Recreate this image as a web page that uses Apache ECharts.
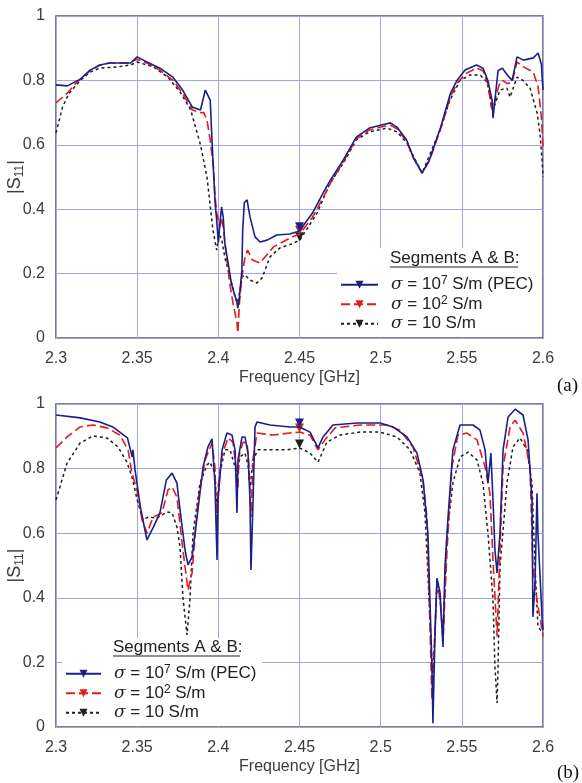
<!DOCTYPE html>
<html>
<head>
<meta charset="utf-8">
<script src="https://cdn.jsdelivr.net/npm/echarts@6/dist/echarts.min.js"></script>
<style>
html,body{margin:0;padding:0;background:#fff;}
#c{width:582px;height:783px;}
</style>
</head>
<body>
<div id="c"></div>
<script>
// ---- data (frequency in GHz, |S11|) ----
const xMin = 2.3, xMax = 2.6, xStep = 0.05;
const yMin = 0, yMax = 1, yStep = 0.2;
const markerFreq = 2.45;
const legendLabels = ['σ = 10^7 S/m (PEC)', 'σ = 10^2 S/m', 'σ = 10 S/m'];
const legendTitle = 'Segments A & B:';
const panelLabels = ['(a)', '(b)'];
const xName = 'Frequency [GHz]';

// (a) top panel
const pecA = [[2.300,0.786],[2.307,0.783],[2.315,0.804],[2.321,0.832],[2.327,0.848],[2.333,0.854],[2.346,0.854],[2.350,0.873],[2.356,0.857],[2.364,0.838],[2.372,0.81],[2.378,0.77],[2.384,0.717],[2.389,0.708],[2.392,0.77],[2.393,0.773],[2.395,0.739],[2.396,0.624],[2.397,0.52],[2.398,0.42],[2.399,0.366],[2.400,0.295],[2.401,0.357],[2.402,0.407],[2.403,0.376],[2.404,0.295],[2.406,0.233],[2.408,0.171],[2.4115,0.109],[2.412,0.093],[2.413,0.127],[2.4145,0.21],[2.415,0.335],[2.416,0.42],[2.4177,0.429],[2.4195,0.376],[2.4226,0.314],[2.4257,0.298],[2.430,0.304],[2.436,0.32],[2.444,0.323],[2.4485,0.33],[2.450,0.333],[2.458,0.388],[2.4645,0.45],[2.469,0.49],[2.477,0.553],[2.485,0.624],[2.493,0.652],[2.500,0.661],[2.506,0.668],[2.510,0.655],[2.516,0.615],[2.520,0.562],[2.5255,0.512],[2.530,0.553],[2.537,0.655],[2.543,0.76],[2.547,0.80],[2.552,0.832],[2.559,0.848],[2.563,0.838],[2.566,0.80],[2.5686,0.739],[2.5692,0.683],[2.5704,0.74],[2.5723,0.83],[2.575,0.838],[2.578,0.817],[2.581,0.80],[2.584,0.873],[2.588,0.863],[2.594,0.87],[2.597,0.885],[2.599,0.85],[2.600,0.77]];
const s100A = [[2.300,0.73],[2.307,0.761],[2.313,0.795],[2.321,0.83],[2.327,0.848],[2.333,0.854],[2.344,0.854],[2.350,0.866],[2.356,0.854],[2.364,0.832],[2.372,0.80],[2.378,0.76],[2.384,0.708],[2.389,0.70],[2.391,0.70],[2.393,0.677],[2.395,0.615],[2.397,0.53],[2.398,0.44],[2.399,0.388],[2.401,0.345],[2.402,0.373],[2.403,0.345],[2.405,0.252],[2.407,0.171],[2.409,0.109],[2.4115,0.047],[2.412,0.016],[2.413,0.109],[2.4145,0.19],[2.4164,0.25],[2.418,0.273],[2.421,0.242],[2.4257,0.233],[2.434,0.283],[2.444,0.31],[2.4485,0.32],[2.450,0.322],[2.458,0.375],[2.465,0.44],[2.469,0.48],[2.477,0.548],[2.485,0.618],[2.493,0.646],[2.500,0.655],[2.506,0.661],[2.510,0.65],[2.516,0.61],[2.520,0.56],[2.5255,0.512],[2.530,0.55],[2.537,0.65],[2.543,0.75],[2.547,0.79],[2.552,0.82],[2.559,0.838],[2.563,0.83],[2.566,0.79],[2.568,0.72],[2.569,0.708],[2.571,0.75],[2.573,0.786],[2.575,0.80],[2.578,0.79],[2.581,0.795],[2.584,0.857],[2.588,0.842],[2.594,0.826],[2.597,0.78],[2.599,0.686],[2.600,0.593]];
const s10A = [[2.300,0.637],[2.304,0.717],[2.308,0.76],[2.315,0.80],[2.321,0.826],[2.327,0.838],[2.338,0.842],[2.346,0.848],[2.350,0.857],[2.360,0.842],[2.369,0.81],[2.377,0.76],[2.383,0.708],[2.389,0.60],[2.393,0.50],[2.3967,0.335],[2.399,0.273],[2.4004,0.32],[2.402,0.31],[2.404,0.25],[2.4072,0.19],[2.4103,0.127],[2.412,0.109],[2.4146,0.19],[2.4164,0.196],[2.4195,0.18],[2.4238,0.171],[2.4269,0.186],[2.4318,0.252],[2.438,0.28],[2.4441,0.29],[2.4485,0.30],[2.450,0.302],[2.4608,0.388],[2.4688,0.48],[2.477,0.543],[2.485,0.615],[2.493,0.64],[2.5039,0.652],[2.510,0.64],[2.5162,0.605],[2.5255,0.512],[2.5366,0.646],[2.5427,0.739],[2.5489,0.80],[2.555,0.817],[2.5612,0.817],[2.5655,0.795],[2.5692,0.708],[2.5735,0.77],[2.5778,0.776],[2.5797,0.748],[2.584,0.81],[2.5877,0.80],[2.592,0.776],[2.5963,0.70],[2.5981,0.637],[2.5994,0.553],[2.600,0.50]];

// (b) bottom panel
const pecB = [[2.300,0.966],[2.315,0.957],[2.327,0.944],[2.335,0.929],[2.344,0.895],[2.347,0.836],[2.3474,0.858],[2.3487,0.796],[2.352,0.681],[2.356,0.579],[2.360,0.619],[2.364,0.663],[2.368,0.765],[2.3715,0.786],[2.3745,0.755],[2.3764,0.672],[2.3795,0.548],[2.3813,0.502],[2.3838,0.526],[2.3869,0.65],[2.3906,0.805],[2.3936,0.867],[2.3961,0.892],[2.3979,0.755],[2.3992,0.517],[2.3998,0.703],[2.4023,0.858],[2.4053,0.91],[2.4084,0.904],[2.4103,0.858],[2.4115,0.663],[2.4121,0.827],[2.4146,0.898],[2.4164,0.898],[2.4183,0.848],[2.4195,0.703],[2.4201,0.486],[2.4214,0.703],[2.4226,0.929],[2.4238,0.944],[2.4318,0.935],[2.4441,0.929],[2.450,0.929],[2.4565,0.913],[2.4614,0.864],[2.4645,0.898],[2.4706,0.935],[2.4854,0.941],[2.4996,0.941],[2.5076,0.929],[2.5162,0.898],[2.5224,0.848],[2.5261,0.765],[2.5291,0.6],[2.5316,0.186],[2.5322,0.012],[2.5335,0.291],[2.5347,0.461],[2.5366,0.415],[2.5384,0.248],[2.5396,0.495],[2.5415,0.65],[2.5445,0.858],[2.5489,0.935],[2.5569,0.935],[2.5612,0.919],[2.5643,0.858],[2.5661,0.755],[2.5679,0.848],[2.5692,0.703],[2.5704,0.548],[2.5717,0.477],[2.5735,0.6],[2.5754,0.858],[2.5785,0.96],[2.5828,0.984],[2.5877,0.966],[2.5908,0.889],[2.5932,0.703],[2.5938,0.341],[2.5951,0.446],[2.5963,0.724],[2.5969,0.6],[2.5994,0.341],[2.600,0.30]];
const s100B = [[2.300,0.864],[2.3068,0.898],[2.3148,0.929],[2.3228,0.935],[2.3314,0.926],[2.3394,0.904],[2.3444,0.858],[2.3468,0.786],[2.3499,0.734],[2.353,0.641],[2.3561,0.6],[2.3598,0.65],[2.3653,0.663],[2.369,0.734],[2.3715,0.743],[2.3745,0.712],[2.3782,0.548],[2.3813,0.424],[2.3838,0.477],[2.3875,0.703],[2.3918,0.827],[2.3961,0.879],[2.3979,0.805],[2.3992,0.579],[2.3998,0.74],[2.4023,0.842],[2.406,0.895],[2.409,0.882],[2.4109,0.805],[2.4121,0.74],[2.4127,0.84],[2.4152,0.882],[2.4177,0.879],[2.4189,0.805],[2.4201,0.65],[2.4214,0.83],[2.4238,0.91],[2.4337,0.904],[2.4441,0.91],[2.450,0.913],[2.4565,0.904],[2.4614,0.858],[2.4657,0.889],[2.4719,0.926],[2.4873,0.935],[2.5039,0.935],[2.5119,0.919],[2.5199,0.867],[2.5261,0.765],[2.5285,0.65],[2.5316,0.084],[2.5322,0.15],[2.5347,0.455],[2.5366,0.393],[2.5384,0.269],[2.5409,0.55],[2.5439,0.805],[2.5476,0.904],[2.5532,0.91],[2.5593,0.889],[2.5643,0.805],[2.5673,0.724],[2.5692,0.517],[2.5717,0.28],[2.5735,0.548],[2.5754,0.805],[2.5797,0.929],[2.5828,0.95],[2.5877,0.91],[2.592,0.805],[2.5938,0.495],[2.5963,0.393],[2.5994,0.30],[2.600,0.28]];
const s10B = [[2.300,0.703],[2.3068,0.817],[2.3148,0.879],[2.3228,0.901],[2.3314,0.895],[2.3382,0.867],[2.3437,0.82],[2.3468,0.774],[2.3505,0.693],[2.3536,0.641],[2.3567,0.65],[2.3622,0.647],[2.3684,0.666],[2.3715,0.663],[2.3745,0.619],[2.3764,0.557],[2.3782,0.40],[2.3807,0.285],[2.3825,0.393],[2.3844,0.6],[2.3887,0.755],[2.393,0.811],[2.3949,0.82],[2.3979,0.786],[2.3992,0.663],[2.401,0.786],[2.4041,0.858],[2.4072,0.858],[2.4103,0.805],[2.4115,0.774],[2.4133,0.836],[2.4164,0.848],[2.4183,0.81],[2.4195,0.743],[2.4214,0.827],[2.4244,0.858],[2.430,0.858],[2.4423,0.858],[2.450,0.864],[2.4565,0.848],[2.4614,0.82],[2.4669,0.882],[2.4749,0.904],[2.4873,0.913],[2.4996,0.913],[2.5101,0.898],[2.5181,0.858],[2.5242,0.786],[2.5273,0.663],[2.5316,0.207],[2.5322,0.145],[2.5347,0.446],[2.5366,0.393],[2.5384,0.291],[2.5409,0.6],[2.5445,0.755],[2.5489,0.836],[2.5538,0.851],[2.5593,0.827],[2.563,0.755],[2.5661,0.6],[2.5692,0.393],[2.5704,0.186],[2.5717,0.074],[2.5723,0.186],[2.5735,0.495],[2.5778,0.755],[2.5815,0.867],[2.5858,0.895],[2.5902,0.858],[2.5932,0.755],[2.5951,0.495],[2.5969,0.31],[2.600,0.291]];

// ---- styles ----
const FONT = 'Liberation Sans, Arial, sans-serif';
const colors = ['#1a1f8a', '#e31b1b', '#1e1e1e'];
const lineTypes = ['solid', [9, 4], [3, 3]];
const lineWidths = [1.6, 1.6, 1.5];
const gridColor = '#a3a3ea';
const textColor = '#3c3c3c';

const chart = echarts.init(document.getElementById('c'), null, {renderer: 'canvas'});

function mkSeries(idx, data, g) {
  return {
    type: 'line', name: legendLabels[idx], xAxisIndex: g, yAxisIndex: g,
    data: data,
    symbol: 'triangle', symbolRotate: 180, showSymbol: true,
    symbolSize: function (v) { return Math.abs(v[0] - markerFreq) < 1e-6 ? 9 : 0; },
    symbolOffset: [0, -4],
    itemStyle: {color: colors[idx]},
    lineStyle: {color: colors[idx], width: lineWidths[idx], type: lineTypes[idx]},
    z: 6 - idx * 0.1, silent: true, animation: false
  };
}

function xAxis(g) {
  return {
    type: 'value', gridIndex: g, min: xMin, max: xMax, interval: xStep,
    name: xName, nameLocation: 'middle', nameGap: 32,
    nameTextStyle: {fontFamily: FONT, fontSize: 16, color: textColor},
    axisLine: {show: false}, axisTick: {show: false},
    axisLabel: {fontFamily: FONT, fontSize: 16, color: textColor, margin: 13,
      formatter: function (v) { return String(+v.toFixed(2)); }},
    splitLine: {show: true, lineStyle: {color: gridColor, width: 1}}
  };
}
function yAxis(g) {
  return {
    type: 'value', gridIndex: g, min: yMin, max: yMax, interval: yStep,
    name: '{m||S}{sub|11}{m||}', nameLocation: 'middle', nameGap: 30, nameRotate: 90,
    nameMoveOverlap: false,
    nameTextStyle: {fontFamily: FONT, fontSize: 18, color: textColor, lineHeight: 22,
      rich: {
        m: {fontFamily: FONT, fontSize: 18, color: textColor, lineHeight: 22},
        sub: {fontFamily: FONT, fontSize: 12, color: textColor, lineHeight: 22, verticalAlign: 'bottom'}
      }},
    axisLine: {show: false}, axisTick: {show: false},
    axisLabel: {fontFamily: FONT, fontSize: 16, color: textColor, margin: 11,
      formatter: function (v) { return String(+v.toFixed(1)); }},
    splitLine: {show: true, lineStyle: {color: gridColor, width: 1}}
  };
}

function legendFmt(name) {
  if (name === legendLabels[0]) return '{s|σ} = 10{sup|7} S/m (PEC)';
  if (name === legendLabels[1]) return '{s|σ} = 10{sup|2} S/m';
  return '{s|σ} = 10 S/m';
}
function mkLegend(left, top, w) {
  return {
    orient: 'vertical', left: left, top: top, itemWidth: w, itemHeight: 10, itemGap: 0,
    selectedMode: false, backgroundColor: 'transparent', padding: 0,
    data: legendLabels, formatter: legendFmt,
    textStyle: {fontFamily: FONT, fontSize: 17, color: '#222', lineHeight: 19.5, padding: [0, 0, 0, 8],
      rich: {
        s: {fontFamily: 'DejaVu Serif, serif', fontStyle: 'italic', fontSize: 17, color: '#222'},
        sup: {fontFamily: FONT, fontSize: 12, color: '#222', verticalAlign: 'top', lineHeight: 19.5}
      }}
  };
}

const option = {
  animation: false,
  backgroundColor: '#fff',
  grid: [
    {left: 56, top: 16, width: 487, height: 322, show: true, borderColor: '#555', borderWidth: 1.5, backgroundColor: 'transparent', containLabel: false, outerBoundsMode: 'none'},
    {left: 56, top: 404, width: 487, height: 323, show: true, borderColor: '#555', borderWidth: 1.5, backgroundColor: 'transparent', containLabel: false, outerBoundsMode: 'none'}
  ],
  xAxis: [xAxis(0), xAxis(1)],
  yAxis: [yAxis(0), yAxis(1)],
  legend: [mkLegend(340, 275, 37), mkLegend(65, 664, 35)],
  graphic: [
    {type: 'rect', z: 1, silent: true, shape: {x: 337, y: 248, width: 205, height: 89}, style: {fill: '#fff'}},
    {type: 'rect', z: 1, silent: true, shape: {x: 62, y: 638, width: 200, height: 88}, style: {fill: '#fff'}},
    {type: 'text', z: 5, left: 390, top: 250, style: {text: legendTitle, fontFamily: FONT, fontSize: 17, fill: '#222'}},
    {type: 'line', z: 5, shape: {x1: 390, y1: 267, x2: 518, y2: 267}, style: {stroke: '#222', lineWidth: 1}},
    {type: 'text', z: 5, left: 113, top: 639, style: {text: legendTitle, fontFamily: FONT, fontSize: 17, fill: '#222'}},
    {type: 'line', z: 5, shape: {x1: 113, y1: 656, x2: 240, y2: 656}, style: {stroke: '#222', lineWidth: 1}},
    {type: 'text', z: 5, left: 557, top: 377, style: {text: panelLabels[0], fontFamily: 'Liberation Serif, serif', fontSize: 19, fill: '#111'}},
    {type: 'text', z: 5, left: 557, top: 764, style: {text: panelLabels[1], fontFamily: 'Liberation Serif, serif', fontSize: 19, fill: '#111'}}
  ],
  series: [
    mkSeries(0, pecA, 0), mkSeries(1, s100A, 0), mkSeries(2, s10A, 0),
    mkSeries(0, pecB, 1), mkSeries(1, s100B, 1), mkSeries(2, s10B, 1)
  ]
};
chart.setOption(option);
</script>
</body>
</html>
